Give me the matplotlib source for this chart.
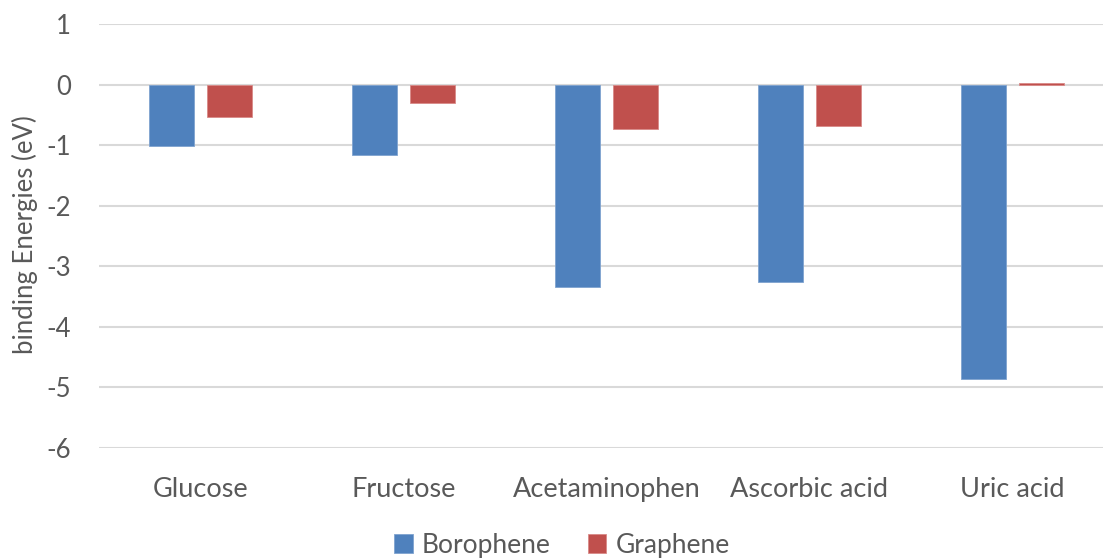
import numpy as np
import matplotlib
matplotlib.use("Agg")
from matplotlib import pyplot as plt

CATEGORIES = ["Glucose", "Fructose", "Acetaminophen", "Ascorbic acid", "Uric acid"]
BOROPHENE = [-1.02, -1.155, -3.345, -3.26, -4.86]
GRAPHENE = [-0.53, -0.30, -0.73, -0.69, 0.02]
Y_TICKS = [1, 0, -1, -2, -3, -4, -5, -6]

BLUE = "#4F81BD"
RED = "#C0504D"
TEXT = "#595959"
GRID = "#D9D9D9"

plt.rcParams["font.family"] = ["Lato", "DejaVu Sans"]

fig = plt.figure(figsize=(11.03, 5.59), dpi=100)
ax = fig.add_axes([99 / 1103, 1 - 448 / 559, 1015 / 1103, (448 - 24) / 559])

x = np.arange(len(CATEGORIES))
width = 0.222
offset = 0.143
ax.bar(x - offset, BOROPHENE, width, color=BLUE, edgecolor="#7FA3CF", linewidth=0.6,
       label="Borophene", zorder=3)
ax.bar(x + offset, GRAPHENE, width, color=RED, edgecolor="#D98A88", linewidth=0.6,
       label="Graphene", zorder=3)

ax.set_xlim(-0.5, len(CATEGORIES) - 0.5)
ax.set_ylim(-6, 1)
ax.set_yticks(Y_TICKS)
ax.set_yticklabels([str(t) for t in Y_TICKS])
ax.set_xticks(x)
ax.set_xticklabels(CATEGORIES)
ax.yaxis.grid(True, color=GRID, linewidth=1.5, zorder=0)
ax.tick_params(axis="both", length=0, colors=TEXT)
ax.tick_params(axis="y", pad=20, labelsize=18.5)
ax.tick_params(axis="x", pad=21, labelsize=19.5)
for side in ["top", "bottom", "left", "right"]:
    ax.spines[side].set_visible(False)

fig.text(25 / 1103, 1 - 235 / 559, "binding Energies (eV)", rotation=90,
         ha="center", va="center", fontsize=18.5, color=TEXT)

leg = fig.legend(loc="center", bbox_to_anchor=(562 / 1103, 1 - 545 / 559), ncol=2,
                 frameon=False, fontsize=19, handlelength=0.7, handleheight=0.7,
                 handletextpad=0.35, columnspacing=1.4)
for t in leg.get_texts():
    t.set_color(TEXT)

fig.savefig("out.png", dpi=100)
